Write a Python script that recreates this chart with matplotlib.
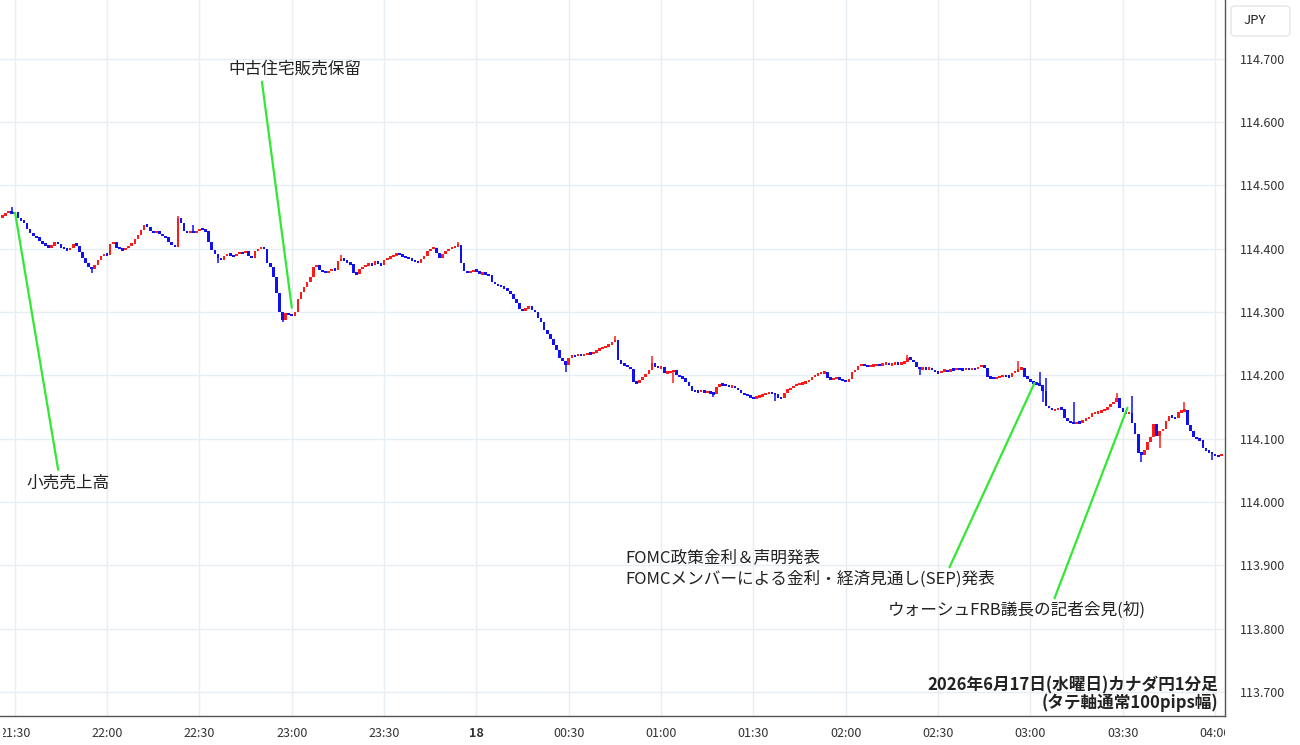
import numpy as np
import pandas as pd
import matplotlib
matplotlib.use("Agg")
import matplotlib.pyplot as plt
from matplotlib.patches import FancyBboxPatch
from matplotlib.transforms import Bbox, TransformedBbox

plt.rcParams['font.family'] = ['Noto Sans CJK JP', 'DejaVu Sans']

# CAD/JPY 1-minute candles, first candle at 21:26
start_time = "2026-06-17 21:26"
base_time = "2026-06-17 21:30"
first_open = 114.450

closes = [
    114.452, 114.456, 114.460, 114.455, 114.458,
    114.448, 114.445, 114.440, 114.432, 114.425, 114.420, 114.418, 114.412, 114.408, 114.405,
    114.402, 114.405, 114.410, 114.408, 114.402, 114.400, 114.398, 114.402, 114.408, 114.405,
    114.395, 114.385, 114.378, 114.372, 114.368, 114.375, 114.382, 114.388, 114.392, 114.390,
    114.408, 114.410, 114.402, 114.400, 114.398, 114.401, 114.405, 114.408, 114.415, 114.422,
    114.430, 114.438, 114.435, 114.428, 114.426, 114.428, 114.424, 114.420, 114.418, 114.410,
    114.406, 114.403, 114.448, 114.440, 114.428, 114.426, 114.428, 114.425, 114.428, 114.432,
    114.430, 114.428, 114.410, 114.398, 114.392, 114.385, 114.382, 114.388, 114.392, 114.390,
    114.388, 114.392, 114.394, 114.393, 114.396, 114.388, 114.386, 114.396, 114.400, 114.403,
    114.400, 114.378, 114.372, 114.356, 114.330, 114.300, 114.288, 114.298, 114.296, 114.294,
    114.300, 114.320, 114.332, 114.340, 114.348, 114.355, 114.372, 114.374, 114.366, 114.364,
    114.362, 114.365, 114.368, 114.366, 114.380, 114.384, 114.382, 114.378, 114.376, 114.362,
    114.360, 114.368, 114.372, 114.374, 114.376, 114.375, 114.380, 114.376, 114.375, 114.382,
    114.385, 114.388, 114.390, 114.392, 114.391, 114.388, 114.387, 114.384, 114.382, 114.380,
    114.378, 114.384, 114.388, 114.396, 114.400, 114.402, 114.394, 114.386, 114.392, 114.396,
    114.400, 114.402, 114.404, 114.406, 114.378, 114.365, 114.362, 114.364, 114.366, 114.365,
    114.360, 114.362, 114.360, 114.358, 114.348, 114.344, 114.342, 114.340, 114.338, 114.334,
    114.328, 114.320, 114.314, 114.305, 114.302, 114.306, 114.309, 114.304, 114.300, 114.290,
    114.284, 114.272, 114.266, 114.258, 114.248, 114.240, 114.228, 114.222, 114.216, 114.228,
    114.232, 114.230, 114.234, 114.231, 114.233, 114.235, 114.234, 114.236, 114.240, 114.242,
    114.244, 114.246, 114.248, 114.252, 114.256, 114.225, 114.218, 114.216, 114.214, 114.210,
    114.190, 114.188, 114.192, 114.198, 114.202, 114.208, 114.220, 114.214, 114.212, 114.213,
    114.204, 114.205, 114.206, 114.208, 114.200, 114.198, 114.196, 114.190, 114.184, 114.176,
    114.175, 114.174, 114.176, 114.173, 114.174, 114.172, 114.171, 114.182, 114.186, 114.185,
    114.184, 114.182, 114.183, 114.180, 114.177, 114.172, 114.170, 114.168, 114.165, 114.164,
    114.166, 114.167, 114.170, 114.172, 114.173, 114.171, 114.170, 114.165, 114.164, 114.172,
    114.178, 114.180, 114.184, 114.185, 114.187, 114.188, 114.190, 114.192, 114.198, 114.200,
    114.203, 114.204, 114.205, 114.196, 114.194, 114.195, 114.196, 114.194, 114.192, 114.190,
    114.195, 114.205, 114.208, 114.215, 114.217, 114.216, 114.214, 114.215, 114.216, 114.217,
    114.216, 114.218, 114.219, 114.217, 114.218, 114.219, 114.218, 114.220, 114.221, 114.228,
    114.225, 114.221, 114.214, 114.210, 114.212, 114.210, 114.212, 114.208, 114.205, 114.204,
    114.207, 114.208, 114.206, 114.210, 114.209, 114.211, 114.210, 114.209, 114.211, 114.210,
    114.211, 114.210, 114.214, 114.216, 114.212, 114.198, 114.196, 114.195, 114.197, 114.198,
    114.200, 114.199, 114.198, 114.204, 114.206, 114.210, 114.212, 114.198, 114.195, 114.190,
    114.188, 114.186, 114.185, 114.176, 114.152, 114.148, 114.145, 114.146, 114.148, 114.147,
    114.132, 114.128, 114.125, 114.124, 114.126, 114.125, 114.130, 114.131, 114.135, 114.140,
    114.141, 114.142, 114.144, 114.146, 114.150, 114.155, 114.158, 114.165, 114.148, 114.142,
    114.140, 114.141, 114.125, 114.108, 114.078, 114.075, 114.082, 114.095, 114.102, 114.124,
    114.105, 114.112, 114.116, 114.128, 114.136, 114.134, 114.132, 114.142, 114.144, 114.145,
    114.122, 114.112, 114.102, 114.100, 114.098, 114.085, 114.080, 114.079, 114.076, 114.073,
    114.072, 114.076,
]

# visible wicks (time -> price)
spike_highs = {
    "21:29": 114.466, "22:23": 114.452, "22:28": 114.438, "23:16": 114.390,
    "23:54": 114.410, "00:45": 114.262, "00:57": 114.230, "02:20": 114.232,
    "02:56": 114.222, "03:03": 114.206, "03:05": 114.196, "03:14": 114.158,
    "03:28": 114.173, "03:33": 114.168, "03:50": 114.158,
}
spike_lows = {
    "21:55": 114.362, "22:36": 114.378, "22:57": 114.284, "00:29": 114.206,
    "01:04": 114.188, "01:17": 114.166, "01:37": 114.160, "02:24": 114.200,
    "03:04": 114.158, "03:36": 114.063, "03:42": 114.085, "03:59": 114.066,
}

x_tick_labels = ['21:30', '22:00', '22:30', '23:00', '23:30', '18', '00:30', '01:00',
                 '01:30', '02:00', '02:30', '03:00', '03:30', '04:00']
y_ticks = [113.7, 113.8, 113.9, 114.0, 114.1, 114.2, 114.3, 114.4, 114.5, 114.6, 114.7]

times = pd.date_range(start_time, periods=len(closes), freq='min')
x = ((times - pd.Timestamp(base_time)) / pd.Timedelta(minutes=1)).to_numpy()
closes = np.array(closes)
opens = np.r_[first_open, closes[:-1]]
highs = np.maximum(opens, closes)
lows = np.minimum(opens, closes)
labels = list(times.strftime('%H:%M'))
for t, v in spike_highs.items():
    highs[labels.index(t)] = v
for t, v in spike_lows.items():
    lows[labels.index(t)] = v

fig = plt.figure(figsize=(13, 7.45), dpi=100)
ax = fig.add_axes([0, 29 / 745, 1225 / 1300, 716 / 745])

colors = np.where(closes >= opens, '#ff1a1a', '#1010f0')
ax.vlines(x, lows, highs, colors=colors, linewidth=1.1, zorder=3)
# minimum drawn body height so flat candles stay visible
body = np.maximum(np.abs(closes - opens), 0.0038)
mid = (opens + closes) / 2
ax.bar(x, body, bottom=mid - body / 2, width=0.85, color=colors, linewidth=0, zorder=4)

ax.set_xlim(-4.8, 393.2)
ax.set_ylim(113.662, 114.793)
ax.set_xticks(np.arange(0, 391, 30))
ax.set_xticklabels(x_tick_labels)
ax.get_xticklabels()[5].set_fontweight('bold')
ax.yaxis.tick_right()
ax.set_yticks(y_ticks)
ax.set_yticklabels([f'{v:.3f}' for v in y_ticks])
ax.tick_params(axis='both', length=0, labelsize=9, colors='#333333')
ax.tick_params(axis='x', pad=8)
ax.tick_params(axis='y', pad=11)
ax.grid(True, color='#e6eef3', linewidth=1)
ax.set_axisbelow(True)
for s in ['top', 'left']:
    ax.spines[s].set_visible(False)
for s in ['right', 'bottom']:
    ax.spines[s].set_color('#555555')
    ax.spines[s].set_linewidth(1)

# clip x labels at the price scale and at the left edge
clip = TransformedBbox(Bbox([[3 / 1300, 0], [1225 / 1300, 1]]), fig.transFigure)
for lab in ax.get_xticklabels():
    lab.set_clip_on(True)
    lab.set_clip_box(clip)

green = '#33e833'
line = dict(arrowstyle='-', color=green, lw=1.6, shrinkA=0, shrinkB=0)

ax.annotate('', xy=(0.1, 114.457), xytext=(14.1, 114.051), arrowprops=line, zorder=5)
ax.text(3.9, 114.030, '小売売上高', fontsize=12, ha='left', va='center', color='#222222')

ax.annotate('', xy=(90, 114.307), xytext=(80.3, 114.664), arrowprops=line, zorder=5)
ax.text(69.3, 114.683, '中古住宅販売保留', fontsize=12, ha='left', va='center', color='#222222')

ax.annotate('', xy=(331.3, 114.188), xytext=(303.7, 113.897), arrowprops=line, zorder=5)
ax.text(198.5, 113.912, 'FOMC政策金利＆声明発表', fontsize=12, ha='left', va='center',
        color='#222222')
ax.text(198.5, 113.878, 'FOMCメンバーによる金利・経済見通し(SEP)発表', fontsize=12,
        ha='left', va='center', color='#222222')

ax.annotate('', xy=(361.5, 114.149), xytext=(337.8, 113.848), arrowprops=line, zorder=5)
ax.text(283.6, 113.829, 'ウォーシュFRB議長の記者会見(初)', fontsize=12, ha='left',
        va='center', color='#222222')

ax.text(0.9943, 31 / 716, '2026年6月17日(水曜日)カナダ円1分足', transform=ax.transAxes,
        fontsize=12, fontweight='bold', ha='right', va='center', color='#222222')
ax.text(0.9943, 13 / 716, '(タテ軸通常100pips幅)', transform=ax.transAxes,
        fontsize=12, fontweight='bold', ha='right', va='center', color='#222222')

# currency box on the price scale
box = FancyBboxPatch((1231 / 1300, 1 - 36 / 745), 59 / 1300, 30 / 745,
                     boxstyle='round,pad=0,rounding_size=0.004', transform=fig.transFigure,
                     fc='white', ec='#e6e6e6', lw=1)
fig.patches.append(box)
fig.text(1243 / 1300, 1 - 21 / 745, 'JPY', fontsize=9.5, ha='left', va='center',
         color='#222222')

fig.savefig('out.png', dpi=100)
